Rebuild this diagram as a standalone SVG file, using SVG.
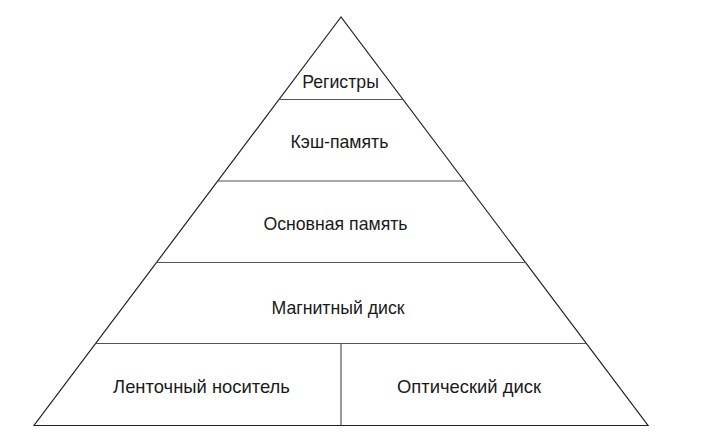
<svg xmlns="http://www.w3.org/2000/svg" width="720" height="436" viewBox="0 0 720 436">
<style>
.e{stroke:#222;stroke-width:1.2;fill:none}
.d{stroke:#555;stroke-width:1.2;fill:none}
text{font-family:"Liberation Sans",Arial,sans-serif;font-size:17.7px;fill:#1a1a1a;text-anchor:middle}
.b{font-size:18.4px}
</style>
<rect width="720" height="436" fill="#fff"/>
<g id="connectors">
<path class="e" d="M341,17 L34,425.5 L648,425.5 Z"/>
<line class="d" x1="279.3" y1="99.5" x2="402.7" y2="99.5"/>
<line class="d" x1="217.6" y1="181" x2="464.4" y2="181"/>
<line class="d" x1="155.9" y1="262.5" x2="526.1" y2="262.5"/>
<line class="d" x1="95.7" y1="343.5" x2="586.3" y2="343.5"/>
<line class="d" x1="341" y1="343.5" x2="341" y2="425.5"/>
</g>
<g id="registers"><text x="340.5" y="88">Регистры</text></g>
<g id="cache"><text x="339.5" y="148">Кэш-память</text></g>
<g id="main-memory"><text x="335.5" y="230">Основная память</text></g>
<g id="magnetic-disk"><text x="338" y="314">Магнитный диск</text></g>
<g id="tape"><text class="b" x="201.5" y="393">Ленточный носитель</text></g>
<g id="optical-disk"><text class="b" x="469" y="393">Оптический диск</text></g>
</svg>
